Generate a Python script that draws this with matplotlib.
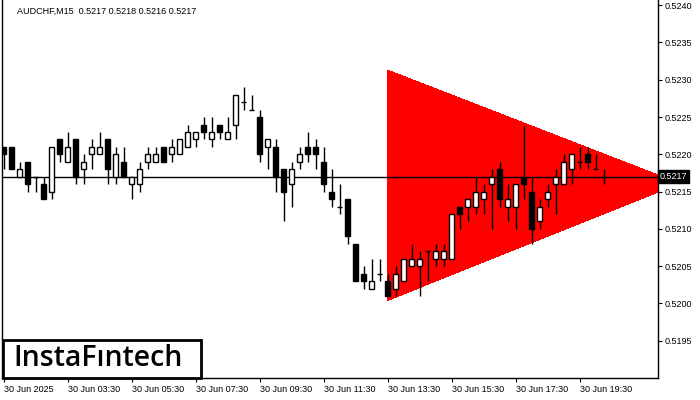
import matplotlib.pyplot as plt
import matplotlib.transforms as mtransforms
from matplotlib.patches import Rectangle, Polygon
import numpy as np

# AUDCHF M15 candles (index = bar number)
opens = [0.5221, 0.5221, 0.5217, 0.5219, 0.5217, 0.5216, 0.5215, 0.5222, 0.5219, 0.5222,
         0.5218, 0.5220, 0.5220, 0.5222, 0.5217, 0.5219, 0.5216, 0.5216, 0.5219, 0.5219,
         0.5221, 0.5220, 0.5220, 0.5221, 0.5222, 0.5224, 0.5222, 0.5224, 0.5222, 0.5224,
         0.5227, 0.5226, 0.5225, 0.5221, 0.5221, 0.5218, 0.5216, 0.5219, 0.5221, 0.5221,
         0.5219, 0.5215, 0.5213, 0.5214, 0.5208, 0.5204, 0.5202, 0.5204, 0.5203, 0.5202,
         0.5203, 0.5205, 0.5205, 0.5207, 0.5206, 0.5206, 0.5206, 0.5213, 0.5213, 0.5213,
         0.5214, 0.5216, 0.5218, 0.5213, 0.5213, 0.5217, 0.5215, 0.5211, 0.5214, 0.5216,
         0.5216, 0.5218, 0.5219, 0.5220, 0.5218, 0.5217]
highs = [0.5221, 0.5221, 0.5219, 0.5219, 0.5217, 0.5217, 0.5221, 0.5222, 0.5223, 0.5222,
         0.5220, 0.5222, 0.5223, 0.5222, 0.5221, 0.5221, 0.5217, 0.5219, 0.5221, 0.5221,
         0.5221, 0.5222, 0.5222, 0.5224, 0.5223, 0.5225, 0.5225, 0.5224, 0.5225, 0.5228,
         0.5229, 0.5228, 0.5226, 0.5222, 0.5222, 0.5218, 0.5219, 0.5221, 0.5223, 0.5222,
         0.5221, 0.5218, 0.5216, 0.5214, 0.5208, 0.5205, 0.5206, 0.5206, 0.5204, 0.5205,
         0.5206, 0.5208, 0.5207, 0.5207, 0.5208, 0.5208, 0.5212, 0.5213, 0.5214, 0.5217,
         0.5216, 0.5218, 0.5219, 0.5216, 0.5216, 0.5224, 0.5217, 0.5214, 0.5216, 0.5218,
         0.5220, 0.5220, 0.5221, 0.5221, 0.5220, 0.5218]
lows = [0.5218, 0.5218, 0.5217, 0.5215, 0.5215, 0.5214, 0.5214, 0.5219, 0.5219, 0.5216,
        0.5216, 0.5218, 0.5220, 0.5216, 0.5216, 0.5217, 0.5214, 0.5215, 0.5218, 0.5219,
        0.5219, 0.5219, 0.5220, 0.5221, 0.5221, 0.5222, 0.5221, 0.5222, 0.5222, 0.5222,
        0.5226, 0.5226, 0.5219, 0.5218, 0.5215, 0.5211, 0.5213, 0.5218, 0.5219, 0.5218,
        0.5215, 0.5213, 0.5212, 0.5208, 0.5203, 0.5202, 0.5202, 0.5203, 0.5201, 0.5201,
        0.5203, 0.5205, 0.5201, 0.5203, 0.5205, 0.5205, 0.5206, 0.5210, 0.5211, 0.5212,
        0.5212, 0.5210, 0.5213, 0.5211, 0.5210, 0.5214, 0.5208, 0.5210, 0.5213, 0.5212,
        0.5216, 0.5216, 0.5218, 0.5218, 0.5218, 0.5216]
closes = [0.5220, 0.5218, 0.5218, 0.5216, 0.5217, 0.5214, 0.5221, 0.5220, 0.5221, 0.5217,
          0.5219, 0.5221, 0.5221, 0.5218, 0.5220, 0.5217, 0.5217, 0.5218, 0.5220, 0.5220,
          0.5219, 0.5221, 0.5222, 0.5223, 0.5223, 0.5223, 0.5223, 0.5223, 0.5223, 0.5228,
          0.5227, 0.5226, 0.5220, 0.5222, 0.5217, 0.5215, 0.5218, 0.5220, 0.5220, 0.5220,
          0.5216, 0.5214, 0.5213, 0.5209, 0.5203, 0.5203, 0.5203, 0.5204, 0.5201, 0.5204,
          0.5206, 0.5206, 0.5206, 0.5207, 0.5207, 0.5207, 0.5212, 0.5212, 0.5214, 0.5215,
          0.5215, 0.5217, 0.5214, 0.5214, 0.5216, 0.5216, 0.5210, 0.5213, 0.5215, 0.5217,
          0.5219, 0.5220, 0.5219, 0.5219, 0.5218, 0.5217]

# bearish symmetrical triangle (bar index, price)
tri_x = [48, 48, 84.5]
tri_y = [0.52313, 0.52004, 0.52161]

last_price = 0.5217
price_ticks = [0.5195, 0.5200, 0.5205, 0.5210, 0.5215, 0.5220, 0.5225, 0.5230, 0.5235, 0.5240]
time_tick_bars = [0, 8, 16, 24, 32, 40, 48, 56, 64, 72]
time_tick_labels = ['30 Jun 2025', '30 Jun 03:30', '30 Jun 05:30', '30 Jun 07:30', '30 Jun 09:30',
                    '30 Jun 11:30', '30 Jun 13:30', '30 Jun 15:30', '30 Jun 17:30', '30 Jun 19:30']

plt.rcParams['font.family'] = ['Liberation Sans', 'DejaVu Sans']

fig = plt.figure(figsize=(7, 4), dpi=100)
fig.patch.set_facecolor('white')
ax = fig.add_axes([2 / 700, 22 / 400, 656 / 700, 378 / 400])
ax.set_facecolor('white')

# --- triangle pattern ---
ax.add_patch(Polygon(list(zip(tri_x, tri_y)), closed=True, facecolor='#ff0000',
                     edgecolor='none', antialiased=False, zorder=1))

# --- last price line ---
ax.axhline(last_price, color='black', linewidth=1.0, zorder=2)

# --- candles ---
body_w = 0.62
for i in range(len(opens)):
    o, h, l, c = opens[i], highs[i], lows[i], closes[i]
    ax.vlines(i, l, h, color='black', linewidth=1.0, zorder=3)
    if c == o:
        ax.hlines(o, i - body_w / 2, i + body_w / 2, color='black', linewidth=1.0, zorder=4)
    else:
        face = 'white' if c > o else 'black'
        ax.add_patch(Rectangle((i - body_w / 2, min(o, c)), body_w, abs(c - o),
                               facecolor=face, edgecolor='black', linewidth=1.0, zorder=4))

ax.set_xlim(-0.19, 81.8)
ax.set_ylim(0.51900, 0.52407)

# axes frame
for side in ['left', 'bottom', 'right']:
    ax.spines[side].set_color('black')
    ax.spines[side].set_linewidth(1.0)
ax.spines['top'].set_visible(False)

ax.yaxis.tick_right()
ax.set_yticks(price_ticks)
ax.set_yticklabels([f'{p:.4f}' for p in price_ticks])
ax.tick_params(axis='y', direction='out', length=3, width=0.8, pad=2, labelsize=6.5)

ax.set_xticks(time_tick_bars)
ax.set_xticklabels(time_tick_labels)
ax.tick_params(axis='x', direction='out', length=3, width=0.8, pad=2, labelsize=6.5)
for lbl in ax.get_xticklabels():
    lbl.set_horizontalalignment('left')

# current price marker on the price scale
trans = mtransforms.blended_transform_factory(ax.transAxes, ax.transData)
ax.text(1.003, last_price, '0.5217', transform=trans, color='white', fontsize=6.5,
        va='center', ha='left',
        bbox=dict(boxstyle='square,pad=0.2', facecolor='black', edgecolor='black'))

# header
fig.text(17 / 700, 1 - 11 / 400, 'AUDCHF,M15  0.5217 0.5218 0.5216 0.5217',
         fontsize=6.5, va='center', ha='left', color='black')

# logo box
fig.patches.append(Rectangle((3 / 700, 22 / 400), 198 / 700, 38 / 400, transform=fig.transFigure,
                             facecolor='white', edgecolor='black', linewidth=2, zorder=5))
fig.text(98 / 700, 1 - 359 / 400, 'InstaFıntech', fontsize=20.5, fontweight='semibold',
         family=['Open Sans', 'DejaVu Sans'],
         va='center', ha='center', color='black', zorder=6)

fig.savefig('out.png', dpi=100, facecolor='white')
